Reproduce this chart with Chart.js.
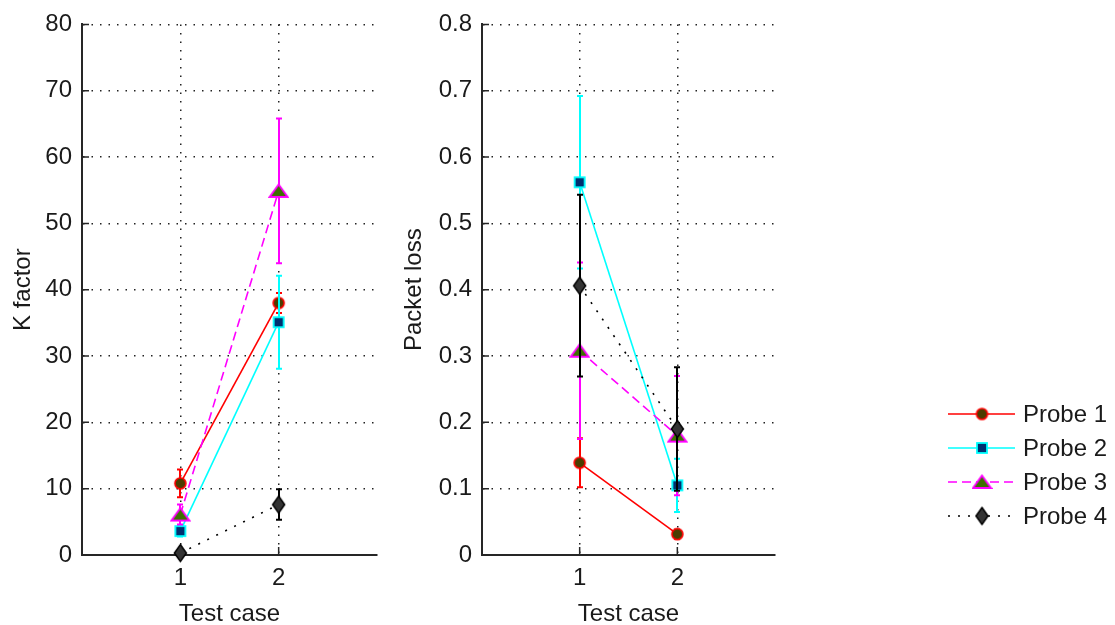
<!DOCTYPE html>
<html><head><meta charset="utf-8">
<script src="https://cdn.jsdelivr.net/npm/chart.js@4/dist/chart.umd.min.js"></script>
<style>
html,body{margin:0;padding:0;background:#fff;}
body{width:1115px;height:625px;position:relative;overflow:hidden;}
#c1{position:absolute;left:0;top:0;}
#c2{position:absolute;left:400px;top:0;}
</style></head><body>
<canvas id="c1" width="400" height="625"></canvas>
<canvas id="c2" width="715" height="625"></canvas>
<script>
// ---- data ----
const testCases = [1, 2];
const seriesNames = ['Probe 1', 'Probe 2', 'Probe 3', 'Probe 4'];

const kP1 = [10.8, 38.0];   const kP1Err = [2.1, 1.5];
const kP2 = [3.6, 35.1];    const kP2Err = [0.8, 7.0];
const kP3 = [6.1, 54.9];    const kP3Err = [1.5, 10.9];
const kP4 = [0.3, 7.6];     const kP4Err = [0.5, 2.3];

const lossP1 = [0.139, 0.0315]; const lossP1Err = [0.037, 0.007];
const lossP2 = [0.562, 0.105];  const lossP2Err = [0.13, 0.04];
const lossP3 = [0.308, 0.18];   const lossP3Err = [0.133, 0.09];
const lossP4 = [0.406, 0.19];   const lossP4Err = [0.137, 0.093];

const kTicks = [0, 10, 20, 30, 40, 50, 60, 70, 80];
const kTickLabels = ['0', '10', '20', '30', '40', '50', '60', '70', '80'];
const lossTicks = [0, 0.1, 0.2, 0.3, 0.4, 0.5, 0.6, 0.7, 0.8];
const lossTickLabels = ['0', '0.1', '0.2', '0.3', '0.4', '0.5', '0.6', '0.7', '0.8'];
const xTickLabels = ['1', '2'];

// ---- styles ----
const FONT = {family: '"Liberation Sans", Arial, sans-serif', size: 24};
const TEXT = '#1a1a1a';
const AXIS = '#262626';

function mk(w, h, draw) {
  const c = document.createElement('canvas');
  c.width = w; c.height = h;
  const g = c.getContext('2d');
  draw(g, w, h);
  return c;
}
const markers = [
  mk(15, 15, (g) => { g.beginPath(); g.arc(7.5, 7.5, 5.5, 0, Math.PI * 2); g.fillStyle = '#4b3d00'; g.fill(); g.lineWidth = 1.6; g.strokeStyle = '#ff0000'; g.stroke(); }),
  mk(14, 14, (g) => { g.fillStyle = '#003070'; g.fillRect(2, 2, 10, 10); g.lineWidth = 1.8; g.strokeStyle = '#00ffff'; g.strokeRect(2, 2, 10, 10); }),
  mk(21, 16, (g) => { g.beginPath(); g.moveTo(10.5, 1.5); g.lineTo(19.5, 14); g.lineTo(1.5, 14); g.closePath(); g.fillStyle = '#3d7000'; g.fill(); g.lineWidth = 1.8; g.strokeStyle = '#ff00ff'; g.stroke(); }),
  mk(15, 20, (g) => { g.beginPath(); g.moveTo(7.5, 1.5); g.lineTo(13.5, 10); g.lineTo(7.5, 18.5); g.lineTo(1.5, 10); g.closePath(); g.fillStyle = '#333333'; g.fill(); g.lineWidth = 1.5; g.strokeStyle = '#000000'; g.stroke(); })
];
const lineColors = ['#ff0000', '#00ffff', '#ff00ff', '#000000'];
const lineDashes = [[], [], [9, 5], [2, 8]];
const drawOrder = [4, 3, 2, 1];

function buildDatasets(vals, errs) {
  return vals.map((v, s) => ({
    label: seriesNames[s],
    data: testCases.map((x, i) => ({x: x, y: v[i]})),
    errors: errs[s],
    borderColor: lineColors[s],
    backgroundColor: lineColors[s],
    borderWidth: 1.6,
    borderDash: lineDashes[s],
    pointStyle: markers[s],
    pointRadius: 7,
    pointHoverRadius: 7,
    tension: 0,
    fill: false,
    clip: false,
    order: drawOrder[s]
  }));
}

const errorBars = {
  id: 'errorBars',
  beforeDatasetDraw(chart, args) {
    const ds = chart.data.datasets[args.index];
    const {ctx, scales: {x, y}} = chart;
    ctx.save();
    ctx.strokeStyle = ds.borderColor;
    ctx.lineWidth = 2;
    ctx.setLineDash([]);
    ds.data.forEach((p, i) => {
      const e = ds.errors[i];
      const px = Math.round(x.getPixelForValue(p.x));
      const yt = y.getPixelForValue(p.y + e), yb = y.getPixelForValue(p.y - e);
      ctx.beginPath();
      ctx.moveTo(px, yt); ctx.lineTo(px, yb);
      ctx.moveTo(px - 3, yt); ctx.lineTo(px + 3, yt);
      ctx.moveTo(px - 3, yb); ctx.lineTo(px + 3, yb);
      ctx.stroke();
    });
    ctx.restore();
  }
};

const innerTicks = {
  id: 'innerTicks',
  beforeDatasetsDraw(chart) {
    const {ctx, chartArea: {left, bottom}, scales: {x, y}} = chart;
    ctx.save();
    ctx.strokeStyle = AXIS;
    ctx.lineWidth = 1.5;
    ctx.beginPath();
    y.ticks.forEach(t => { const py = y.getPixelForValue(t.value); ctx.moveTo(left, py); ctx.lineTo(left + 7, py); });
    x.ticks.forEach(t => { const px = x.getPixelForValue(t.value); ctx.moveTo(px, bottom); ctx.lineTo(px, bottom - 8); });
    ctx.stroke();
    ctx.restore();
  }
};

const sideLegend = {
  id: 'sideLegend',
  afterDraw(chart, args, opts) {
    if (!opts || !opts.show) return;
    const {ctx} = chart;
    const rows = [414, 448, 482, 516];
    chart.data.datasets.forEach((ds, i) => {
      const yy = rows[i];
      ctx.save();
      ctx.strokeStyle = ds.borderColor;
      ctx.lineWidth = 1.6;
      ctx.setLineDash(ds.borderDash);
      ctx.beginPath(); ctx.moveTo(548, yy); ctx.lineTo(615, yy); ctx.stroke();
      ctx.setLineDash([]);
      const m = ds.pointStyle;
      ctx.drawImage(m, 582 - m.width / 2, yy - m.height / 2);
      ctx.fillStyle = TEXT;
      ctx.font = FONT.size + 'px ' + FONT.family;
      ctx.textBaseline = 'middle';
      ctx.textAlign = 'left';
      ctx.fillText(ds.label, 623, yy + 1);
      ctx.restore();
    });
  }
};

function makeChart(id, datasets, yTicks, yLabels, yMax, yTitle, yTitlePad, padRight, legend) {
  return new Chart(document.getElementById(id), {
    type: 'line',
    data: {datasets: datasets},
    plugins: [errorBars, innerTicks, sideLegend],
    options: {
      responsive: false,
      animation: false,
      devicePixelRatio: 1,
      events: [],
      layout: {padding: {left: 0, top: 22, right: padRight, bottom: 0}},
      plugins: {legend: {display: false}, tooltip: {enabled: false}, sideLegend: {show: legend}},
      scales: {
        x: {
          type: 'linear', min: 0, max: 3,
          afterBuildTicks: s => { s.ticks = testCases.map(v => ({value: v})); },
          afterFit: s => { s.height = 70; },
          grid: {color: '#222', lineWidth: 1.5, drawTicks: false},
          border: {display: true, color: AXIS, width: 2, dash: [1.5, 7]},
          ticks: {font: FONT, color: TEXT, padding: 9, maxRotation: 0,
                  callback: (v) => xTickLabels[testCases.indexOf(v)]},
          title: {display: true, text: 'Test case', font: FONT, color: TEXT, padding: {top: 0, bottom: -4}}
        },
        y: {
          type: 'linear', min: 0, max: yMax,
          afterBuildTicks: s => { s.ticks = yTicks.map(v => ({value: v})); },
          afterFit: s => { s.width = 82; },
          grid: {color: '#222', lineWidth: 1.5, drawTicks: false},
          border: {display: true, color: AXIS, width: 2, dash: [1.5, 7]},
          ticks: {font: FONT, color: TEXT, padding: 10,
                  callback: (v) => yLabels[yTicks.indexOf(v)]},
          title: {display: true, text: yTitle, font: FONT, color: TEXT, padding: {top: yTitlePad, bottom: 0}}
        }
      }
    }
  });
}

makeChart('c1', buildDatasets([kP1, kP2, kP3, kP4], [kP1Err, kP2Err, kP3Err, kP4Err]),
  kTicks, kTickLabels, 80, 'K factor', 9, 23, false);
makeChart('c2', buildDatasets([lossP1, lossP2, lossP3, lossP4], [lossP1Err, lossP2Err, lossP3Err, lossP4Err]),
  lossTicks, lossTickLabels, 0.8, 'Packet loss', 0, 340, true);
</script>
</body></html>
